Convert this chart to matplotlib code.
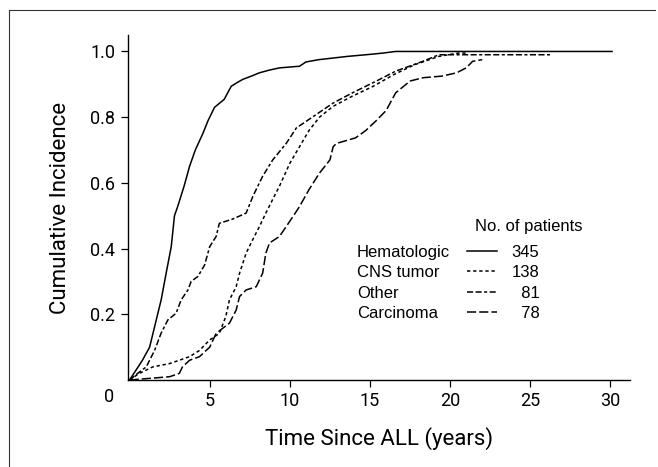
import matplotlib
matplotlib.use('Agg')
import matplotlib.pyplot as plt
from matplotlib.lines import Line2D
from matplotlib.transforms import blended_transform_factory, IdentityTransform

narrow = ['Roboto', 'DejaVu Sans']
plain = ['Liberation Sans', 'DejaVu Sans']

# cumulative incidence (years, proportion)
hem_t = [0, 0.4, 0.8, 1.25, 1.6, 1.97, 2.3, 2.6, 2.8, 3.0, 3.4, 3.74, 4.1, 4.57, 4.9,
         5.3, 5.9, 6.34, 6.7, 7.06, 7.6, 8.1, 8.7, 9.35, 10.6, 11.0, 11.8, 12.7, 13.6,
         14.75, 15.8, 16.6, 30.1]
hem_y = [0, 0.03, 0.06, 0.10, 0.17, 0.244, 0.33, 0.406, 0.50, 0.528, 0.59, 0.65, 0.70,
         0.75, 0.79, 0.83, 0.854, 0.894, 0.905, 0.915, 0.925, 0.935, 0.943, 0.95, 0.955,
         0.968, 0.975, 0.98, 0.985, 0.99, 0.995, 1.0, 1.0]

cns_t = [0, 0.6, 1.45, 2.5, 3.74, 4.36, 5.0, 5.6, 6.0, 6.23, 6.65, 6.86, 7.27, 7.68, 8.1,
         8.5, 8.93, 9.35, 10.0, 10.6, 11.2, 11.85, 12.7, 13.9, 15.2, 16.5, 17.8, 19.3,
         20.5, 21.0]
cns_y = [0, 0.02, 0.04, 0.05, 0.071, 0.09, 0.122, 0.142, 0.193, 0.244, 0.284, 0.325,
         0.386, 0.427, 0.467, 0.508, 0.55, 0.59, 0.66, 0.71, 0.76, 0.80, 0.833, 0.864,
         0.894, 0.93, 0.96, 0.985, 0.995, 0.995]

oth_t = [0, 0.5, 1.04, 1.56, 1.97, 2.39, 2.9, 3.22, 3.64, 3.84, 4.26, 4.68, 5.0, 5.4,
         5.6, 6.44, 7.27, 7.7, 8.3, 8.93, 9.77, 10.4, 11.4, 12.7, 13.9, 15.4, 16.6, 18.3,
         19.3, 26.3]
oth_y = [0, 0.02, 0.04, 0.09, 0.143, 0.183, 0.203, 0.244, 0.274, 0.30, 0.315, 0.35,
         0.406, 0.437, 0.477, 0.49, 0.508, 0.56, 0.62, 0.67, 0.72, 0.767, 0.80, 0.843,
         0.874, 0.91, 0.94, 0.97, 0.99, 0.99]

car_t = [0, 2.5, 3.1, 3.3, 3.74, 4.36, 5.0, 5.4, 6.23, 6.65, 6.86, 7.27, 7.9, 8.3, 8.5,
         8.73, 9.35, 9.77, 10.2, 10.6, 11.2, 11.85, 12.5, 12.7, 12.9, 14.1, 14.75, 15.4,
         16.0, 16.6, 17.5, 18.3, 19.5, 20.4, 21.0, 21.4, 22.0]
car_y = [0, 0.01, 0.02, 0.04, 0.06, 0.071, 0.10, 0.142, 0.173, 0.213, 0.254, 0.274,
         0.284, 0.325, 0.386, 0.417, 0.437, 0.467, 0.498, 0.528, 0.58, 0.63, 0.67, 0.71,
         0.72, 0.737, 0.76, 0.79, 0.82, 0.874, 0.91, 0.92, 0.925, 0.935, 0.95, 0.97, 0.975]

groups = ['Hematologic', 'CNS tumor', 'Other', 'Carcinoma']
counts = [345, 138, 81, 78]
styles = ['-', (0, (2.2, 1.8)), (0, (4, 1.6, 4, 1.6, 2, 1.6)), (0, (6, 2))]

fig = plt.figure(figsize=(6.58, 4.67), dpi=100)
ax = fig.add_axes([0.1945, 0.1863, 0.7625, 0.7387])

curves = [(hem_t, hem_y), (cns_t, cns_y), (oth_t, oth_y), (car_t, car_y)]
handles = []
for (t, y), ls in zip(curves, styles):
    ln, = ax.plot(t, y, color='black', lw=1.1, ls=ls)
    handles.append(ln)

ax.set_xlim(-0.1, 31.2)
ax.set_ylim(0, 1.05)
ax.set_xticks([5, 10, 15, 20, 25, 30])
ax.set_yticks([0.2, 0.4, 0.6, 0.8, 1.0])
ax.set_yticklabels(['0.2', '0.4', '0.6', '0.8', '1.0'])
for s in ['top', 'right']:
    ax.spines[s].set_visible(False)
for s in ['left', 'bottom']:
    ax.spines[s].set_linewidth(1.0)
ax.tick_params(length=5, width=0.9, labelsize=13, pad=4)
for lab in ax.get_xticklabels() + ax.get_yticklabels():
    lab.set_family(narrow)
ax.text(-1.25, -0.025, '0', transform=ax.transData, ha='center', va='top',
        fontsize=13, family=narrow)

ax.set_xlabel('Time Since ALL (years)', fontsize=16, family=narrow, labelpad=12)
ax.set_ylabel('Cumulative Incidence', fontsize=16, family=narrow, labelpad=14)

num_labels = ['\u2007' * (3 - len(str(c))) + str(c) for c in counts]
leg = ax.legend(handles, num_labels, loc='upper left', bbox_to_anchor=(0.675, 0.392),
                frameon=False, borderpad=0, borderaxespad=0, handlelength=1.8,
                handletextpad=0.9, labelspacing=0.33, prop={'family': plain, 'size': 12})

fig.canvas.draw()
tr = blended_transform_factory(ax.transAxes, IdentityTransform())
for txt, name in zip(leg.get_texts(), groups):
    bb = txt.get_window_extent()
    ax.text(0.456, (bb.y0 + bb.y1) / 2, name, transform=tr, ha='left', va='center',
            fontsize=12, family=plain)
ax.text(0.691, 0.446, 'No. of patients', transform=ax.transAxes, ha='left', va='center',
        fontsize=12, family=plain)

# page frame (top and left edges)
fig.add_artist(Line2D([0.013, 0.995], [0.979, 0.979], color='#333333', lw=0.8))
fig.add_artist(Line2D([0.013, 0.013], [0.0, 0.979], color='#333333', lw=0.8))

fig.savefig('out.png', dpi=100)
